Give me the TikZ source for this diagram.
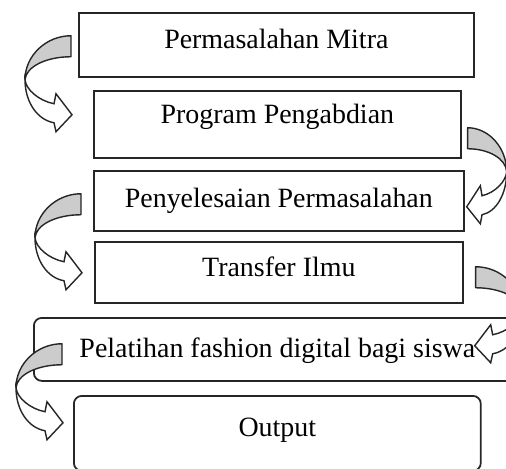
\documentclass[tikz,border=0pt]{standalone}
\usepackage{fontspec}
\setmainfont{Liberation Serif}
\usetikzlibrary{calc}

\tikzset{
  blok/.style={draw=black!85, line width=1pt, anchor=north west,
    inner xsep=0pt, inner ysep=0pt, font=\fontsize{15.9}{19}\selectfont},
  % curved block arrow, origin at its outermost point
  bentarrow/.pic={
    \filldraw[fill=gray!40, draw=black!85, line width=0.8pt, line join=round]
      (0,0) .. controls (0,-24) and (21,-44) .. (46,-44) -- (46,-23)
      .. controls (21,-23) and (1,-13) .. (0,0) -- cycle;
    \filldraw[fill=white, draw=black!85, line width=0.8pt, line join=miter]
      (0,0) .. controls (1,10) and (14,21) .. (29,24) -- (31,14) -- (47,35)
      -- (31,52) -- (29,43) .. controls (12,40) and (0,22) .. (0,0) -- cycle;
  }
}

\begin{document}
\begin{tikzpicture}[x=0.02cm, y=-0.02cm]
  \useasboundingbox (0,0) rectangle (506,468);
  \clip (0,0) rectangle (506,468);

  \node[blok, minimum width=7.9cm, text height=0.72cm, text depth=0.56cm] (masalah) at (78,12) {Permasalahan Mitra};
  \node[blok, minimum width=7.34cm, text height=0.66cm, text depth=0.68cm] (program) at (93,90) {Program Pengabdian};
  \node[blok, minimum width=7.4cm, text height=0.74cm, text depth=0.46cm] (solusi) at (93,170) {Penyelesaian Permasalahan};
  \node[blok, minimum width=7.36cm, text height=0.70cm, text depth=0.52cm] (transfer) at (94,241) {Transfer Ilmu};
  \node[blok, rounded corners=4.5pt, minimum width=9.74cm, text height=0.80cm, text depth=0.46cm] (pelatihan) at (33,317) {Pelatihan fashion digital bagi siswa};
  \node[blok, rounded corners=4.5pt, minimum width=8.14cm, text height=0.82cm, text depth=0.68cm] (output) at (73,395) {Output};

  % arrows between the steps
  \pic at ($(masalah.south west)+(-53,2)$) {bentarrow};
  \pic[xscale=-0.85] at ($(program.south east)+(45,13)$) {bentarrow};
  \pic at ($(solusi.south west)+(-58,6)$) {bentarrow};
  \pic[xscale=-1] at ($(transfer.south east)+(58,7)$) {bentarrow};
  \pic at ($(pelatihan.south west)+(-17,6)$) {bentarrow};
\end{tikzpicture}
\end{document}
